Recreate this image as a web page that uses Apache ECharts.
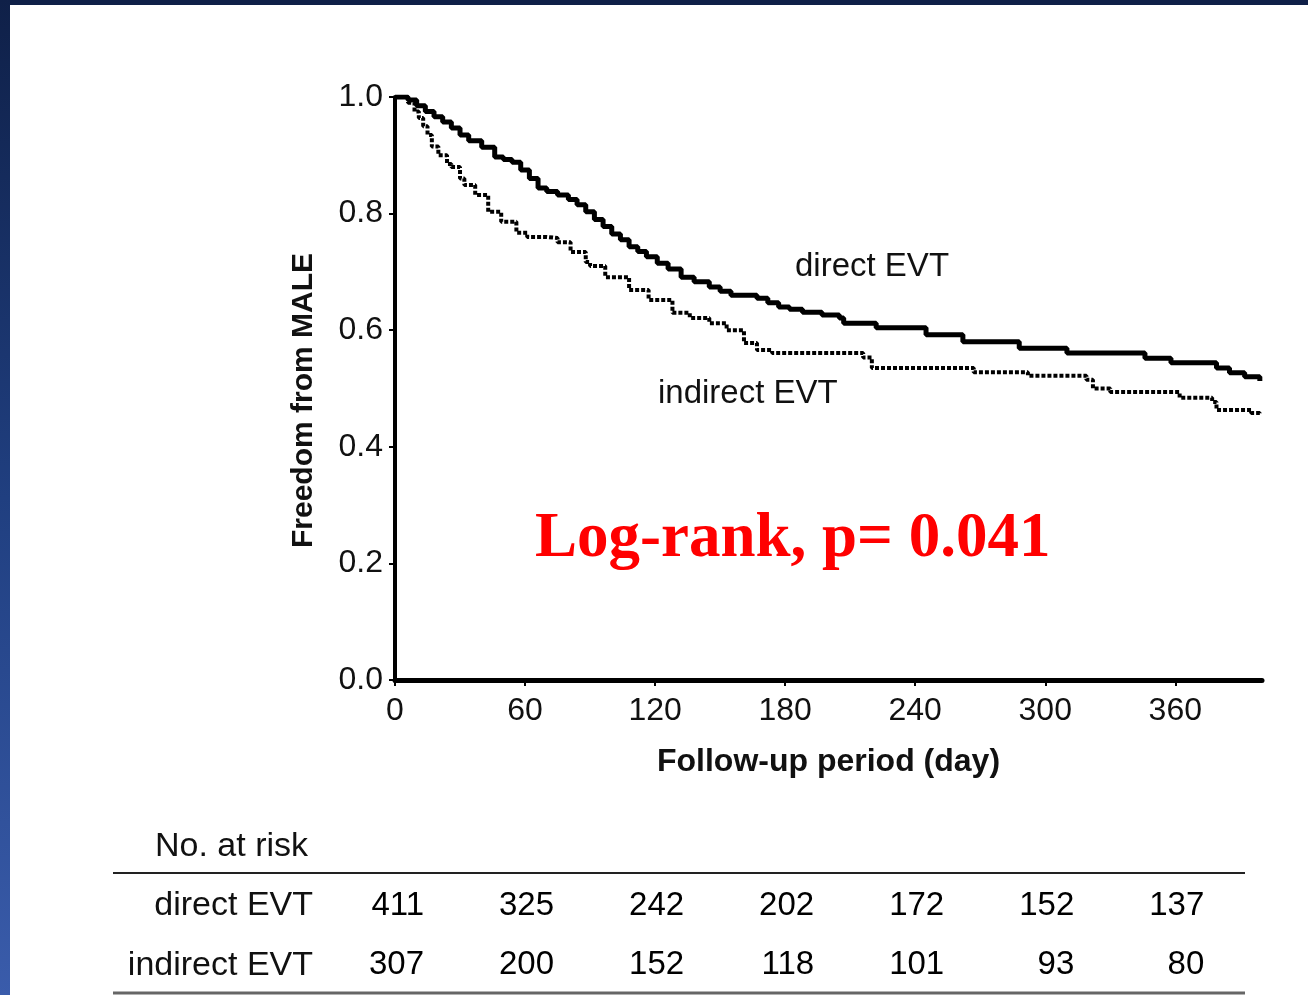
<!DOCTYPE html>
<html>
<head>
<meta charset="utf-8">
<script src="https://cdn.jsdelivr.net/npm/echarts@6/dist/echarts.min.js"></script>
<style>
html,body{margin:0;padding:0;background:#fff;}
#c{width:1308px;height:995px;}
</style>
</head>
<body>
<div id="c"></div>
<script>
// ---- data ----
var xTicks = [0, 60, 120, 180, 240, 300, 360];
var yTicks = [0, 0.2, 0.4, 0.6, 0.8, 1.0];
var groups = ['direct EVT', 'indirect EVT'];

var directEVT = [
  [0,1],[4,1],[6,0.995],[10,0.985],[14,0.975],[18,0.966],[22,0.957],[26,0.947],[30,0.935],[34,0.925],
  [40,0.914],[46,0.897],[50,0.893],[54,0.888],[58,0.875],[62,0.86],[66,0.844],[70,0.838],[75,0.832],
  [80,0.824],[84,0.815],[88,0.803],[92,0.79],[96,0.778],[100,0.765],[104,0.755],[108,0.743],[112,0.735],
  [116,0.726],[121,0.715],[126,0.705],[132,0.691],[138,0.683],[145,0.674],[150,0.667],[155,0.66],
  [167,0.655],[172,0.647],[177,0.64],[182,0.636],[188,0.631],[197,0.626],[205,0.621],[207,0.612],
  [222,0.604],[245,0.592],[262,0.58],[288,0.569],[310,0.561],[346,0.552],[358,0.544],[379,0.535],
  [385,0.527],[392,0.52],[399,0.513]
];
var indirectEVT = [
  [0,1],[3,1],[6,0.99],[9,0.975],[11,0.964],[13,0.95],[15,0.935],[17,0.915],[20,0.9],[24,0.885],
  [26,0.88],[30,0.86],[32,0.849],[37,0.832],[43,0.803],[49,0.786],[56,0.767],[61,0.76],[70,0.758],
  [75,0.751],[81,0.734],[88,0.717],[90,0.71],[97,0.691],[108,0.669],[117,0.652],[128,0.63],[136,0.621],
  [145,0.612],[153,0.6],[161,0.578],[167,0.566],[174,0.561],[216,0.553],[220,0.535],[267,0.528],
  [292,0.522],[319,0.515],[322,0.5],[330,0.494],[362,0.484],[377,0.477],[379,0.463],[395,0.458],[399,0.455]
];
var atRiskDirect = [411, 325, 242, 202, 172, 152, 137];
var atRiskIndirect = [307, 200, 152, 118, 101, 93, 80];

// ---- chart ----
var chart = echarts.init(document.getElementById('c'), null, {renderer: 'canvas'});
var sans = 'Liberation Sans, Arial, Helvetica, sans-serif';

function riskPoints(arr, row) {
  return arr.map(function (v, i) { return [xTicks[i], row, v]; });
}
var riskLabel = {
  show: true, position: 'inside', align: 'right', verticalAlign: 'middle', offset: [29, 0],
  formatter: function (p) { return String(p.value[2]); },
  fontFamily: sans, fontSize: 33, color: '#000', textBorderWidth: 0, opacity: 1
};

var option = {
  backgroundColor: '#ffffff',
  animation: false,
  grid: [
    {left: 395, right: 46, top: 97, bottom: 315, containLabel: false},
    {left: 395, right: 46, top: 876, height: 120, containLabel: false}
  ],
  xAxis: [
    {
      type: 'value', gridIndex: 0, min: 0, max: 400,
      name: 'Follow-up period (day)', nameLocation: 'middle', nameGap: 66,
      nameTextStyle: {fontFamily: sans, fontWeight: 'bold', fontSize: 32, color: '#111'},
      axisLine: {show: true, lineStyle: {color: '#000', width: 5}},
      axisTick: {show: true, length: 6, lineStyle: {color: '#000', width: 2}, customValues: xTicks},
      axisLabel: {fontFamily: sans, fontSize: 32, color: '#111', margin: 15, customValues: xTicks},
      splitLine: {show: false}
    },
    {
      type: 'value', gridIndex: 1, min: 0, max: 400, show: false
    }
  ],
  yAxis: [
    {
      type: 'value', gridIndex: 0, min: 0, max: 1, interval: 0.2,
      name: 'Freedom from MALE', nameLocation: 'middle', nameGap: 76, nameRotate: 90,
      nameTextStyle: {fontFamily: sans, fontWeight: 'bold', fontSize: 30, color: '#111', padding: [0, 24, 0, 0]},
      axisLine: {show: true, lineStyle: {color: '#000', width: 4}},
      axisTick: {show: true, length: 6, lineStyle: {color: '#000', width: 2}},
      axisLabel: {fontFamily: sans, fontSize: 32, color: '#111', margin: 12,
        formatter: function (v) { return v.toFixed(1); }},
      splitLine: {show: false}
    },
    {
      type: 'category', gridIndex: 1, data: groups, inverse: true,
      axisLine: {show: false}, axisTick: {show: false}, splitLine: {show: false},
      axisLabel: {fontFamily: sans, fontSize: 34, color: '#111', margin: 82, align: 'right'}
    }
  ],
  graphic: [
    {type: 'rect', left: 0, top: 0, shape: {width: 1308, height: 5}, style: {fill: '#0f2048'}, z: 100},
    {type: 'rect', left: 0, top: 0, shape: {width: 10, height: 995},
      style: {fill: new echarts.graphic.LinearGradient(0, 0, 0, 1, [
        {offset: 0, color: '#0f2048'}, {offset: 0.5, color: '#203f80'}, {offset: 1, color: '#3a5cab'}])}, z: 100},
    {type: 'text', left: 795, top: 250, style: {text: 'direct EVT', font: '33px ' + sans, fill: '#111'}},
    {type: 'text', left: 658, top: 377, style: {text: 'indirect EVT', font: '33px ' + sans, fill: '#111'}},
    {type: 'text', left: 535, top: 508, style: {text: 'Log-rank, p= 0.041',
      font: 'bold 63px "Liberation Serif", "Times New Roman", Times, serif', fill: '#ff0000'}},
    {type: 'text', left: 155, top: 830, style: {text: 'No. at risk', font: '34px ' + sans, fill: '#111'}},
    {type: 'line', shape: {x1: 113, y1: 873, x2: 1245, y2: 873}, style: {stroke: '#222', lineWidth: 2}},
    {type: 'line', shape: {x1: 113, y1: 993, x2: 1245, y2: 993}, style: {stroke: '#666', lineWidth: 3}}
  ],
  series: [
    {
      name: 'direct EVT', type: 'line', xAxisIndex: 0, yAxisIndex: 0,
      data: directEVT, step: 'end', showSymbol: false, symbol: 'none',
      lineStyle: {color: '#000', width: 5}, z: 5
    },
    {
      name: 'indirect EVT', type: 'line', xAxisIndex: 0, yAxisIndex: 0,
      data: indirectEVT, step: 'end', showSymbol: false, symbol: 'none',
      lineStyle: {color: '#000', width: 4, type: [4, 2], cap: 'butt'}, z: 4
    },
    {
      name: 'risk direct', type: 'scatter', xAxisIndex: 1, yAxisIndex: 1,
      data: riskPoints(atRiskDirect, 0), symbolSize: 0, itemStyle: {color: '#000', opacity: 1},
      label: riskLabel
    },
    {
      name: 'risk indirect', type: 'scatter', xAxisIndex: 1, yAxisIndex: 1,
      data: riskPoints(atRiskIndirect, 1), symbolSize: 0, itemStyle: {color: '#000', opacity: 1},
      label: riskLabel
    }
  ]
};
chart.setOption(option);
</script>
</body>
</html>
